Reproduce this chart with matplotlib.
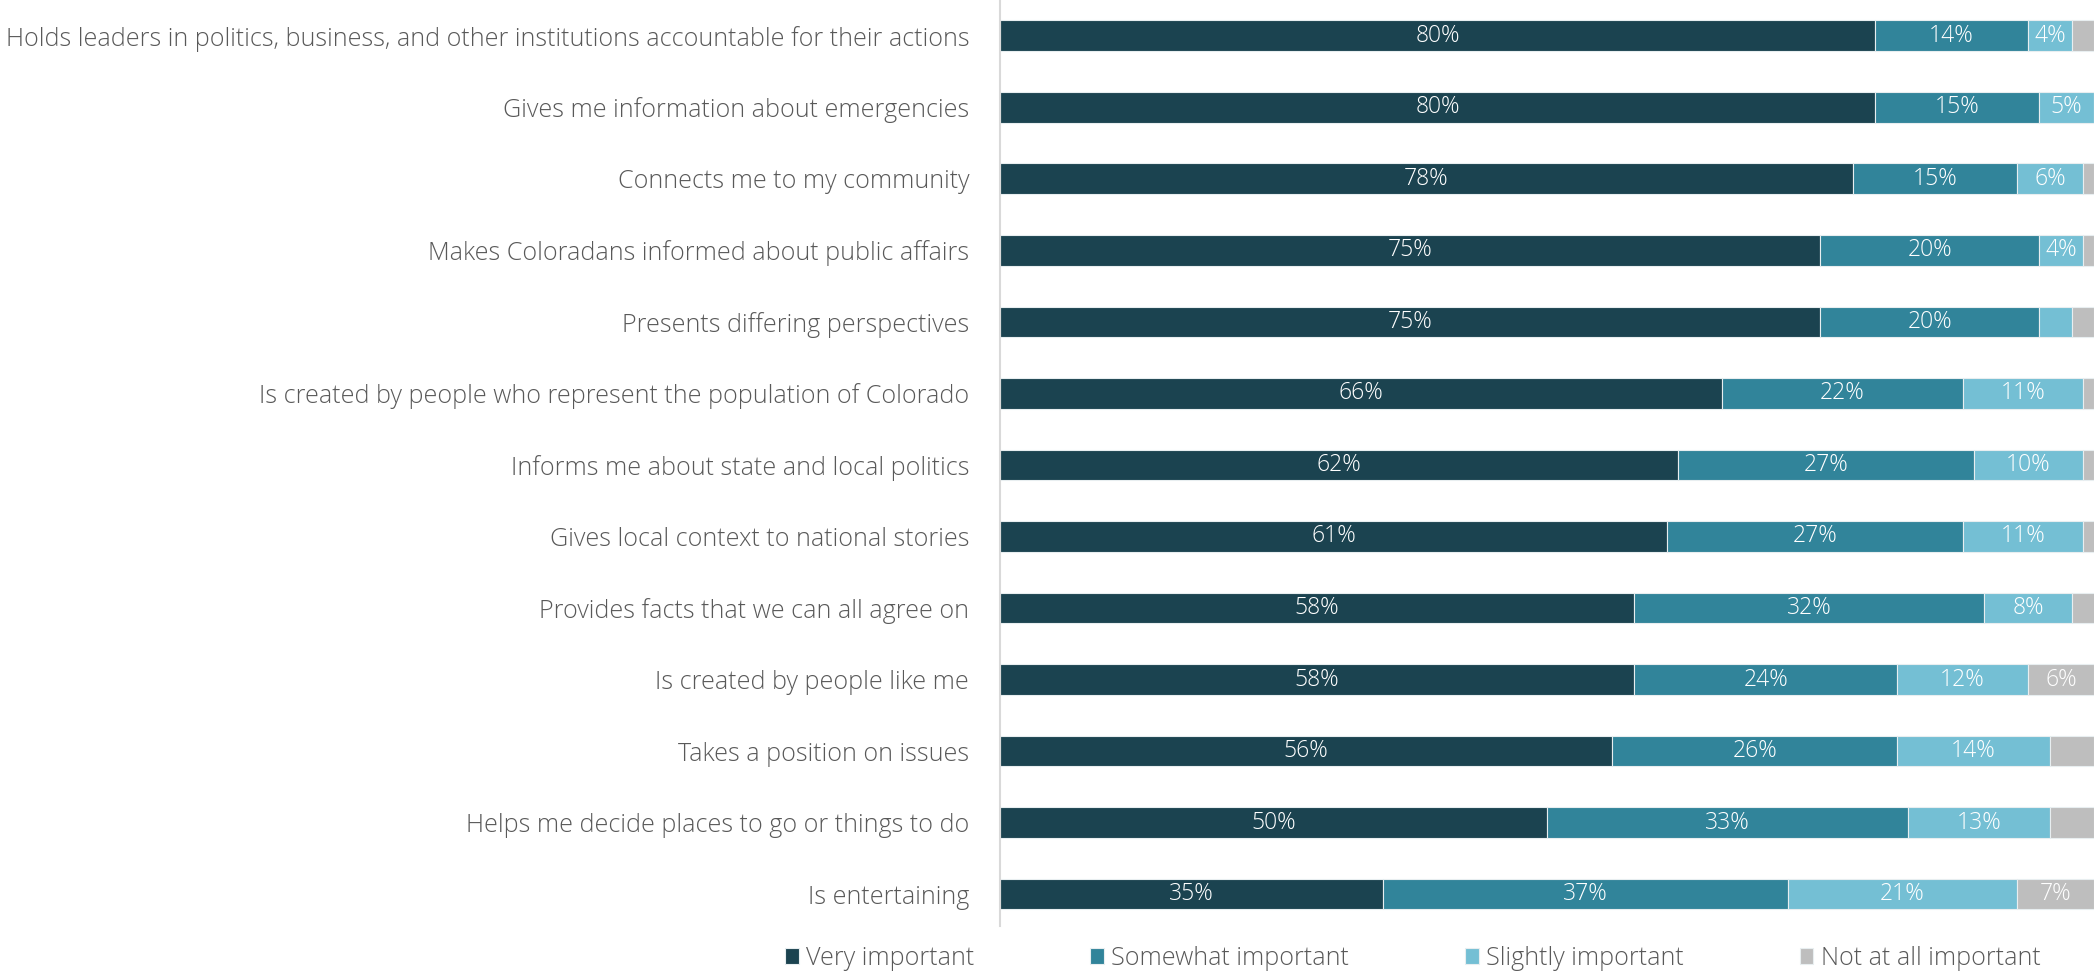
import matplotlib.pyplot as plt
import numpy as np

# survey items, top to bottom
items = [
    "Holds leaders in politics, business, and other institutions accountable for their actions",
    "Gives me information about emergencies",
    "Connects me to my community",
    "Makes Coloradans informed about public affairs",
    "Presents differing perspectives",
    "Is created by people who represent the population of Colorado",
    "Informs me about state and local politics",
    "Gives local context to national stories",
    "Provides facts that we can all agree on",
    "Is created by people like me",
    "Takes a position on issues",
    "Helps me decide places to go or things to do",
    "Is entertaining",
]
very = [80, 80, 78, 75, 75, 66, 62, 61, 58, 58, 56, 50, 35]
somewhat = [14, 15, 15, 20, 20, 22, 27, 27, 32, 24, 26, 33, 37]
slightly = [4, 5, 6, 4, 3, 11, 10, 11, 8, 12, 14, 13, 21]
not_at_all = [2, 0, 1, 1, 2, 1, 1, 2, 3, 6, 4, 4, 7]

series = ["Very important", "Somewhat important", "Slightly important", "Not at all important"]
colors = ["#1B4350", "#31849A", "#74BFD4", "#BEBEBE"]
min_label = [4, 4, 4, 6]

plt.rcParams['font.family'] = ['Open Sans', 'DejaVu Sans']

fig = plt.figure(figsize=(20.96, 9.73), dpi=100)
ax = fig.add_axes([0.477, 0.048, 0.522, 0.952])

y = np.arange(len(items))
left = np.zeros(len(items))
for name, vals, c, mn in zip(series, [very, somewhat, slightly, not_at_all], colors, min_label):
    vals = np.array(vals, dtype=float)
    bars = ax.barh(y, vals, left=left, height=0.43, color=c, label=name,
                   edgecolor="#E8EEF0", linewidth=0.8)
    for b, v in zip(bars, vals):
        if v >= mn:
            ax.text(b.get_x() + b.get_width() / 2, b.get_y() + b.get_height() / 2,
                    f"{int(v)}%", ha="center", va="center", color="white",
                    fontsize=16.5, fontweight="light")
    left += vals

ax.set_xlim(0, 100)
ax.set_ylim(len(items) - 0.55, -0.5)
ax.set_yticks(y)
ax.set_yticklabels(items, fontsize=18.1, color="#595959", fontweight="light")
ax.tick_params(axis="y", length=0, pad=22)
ax.set_xticks([])
for s in ["top", "right", "bottom"]:
    ax.spines[s].set_visible(False)
ax.spines["left"].set_color("#D9D9D9")
ax.spines["left"].set_linewidth(1.5)

leg = fig.legend(loc="lower center", bbox_to_anchor=(0.674, -0.021), ncol=4,
                 frameon=False, fontsize=18.1, handlelength=0.55, handleheight=0.6,
                 handletextpad=0.3, columnspacing=4.6)
for t in leg.get_texts():
    t.set_color("#595959")
    t.set_fontweight("light")

fig.savefig("out.png", dpi=100)
